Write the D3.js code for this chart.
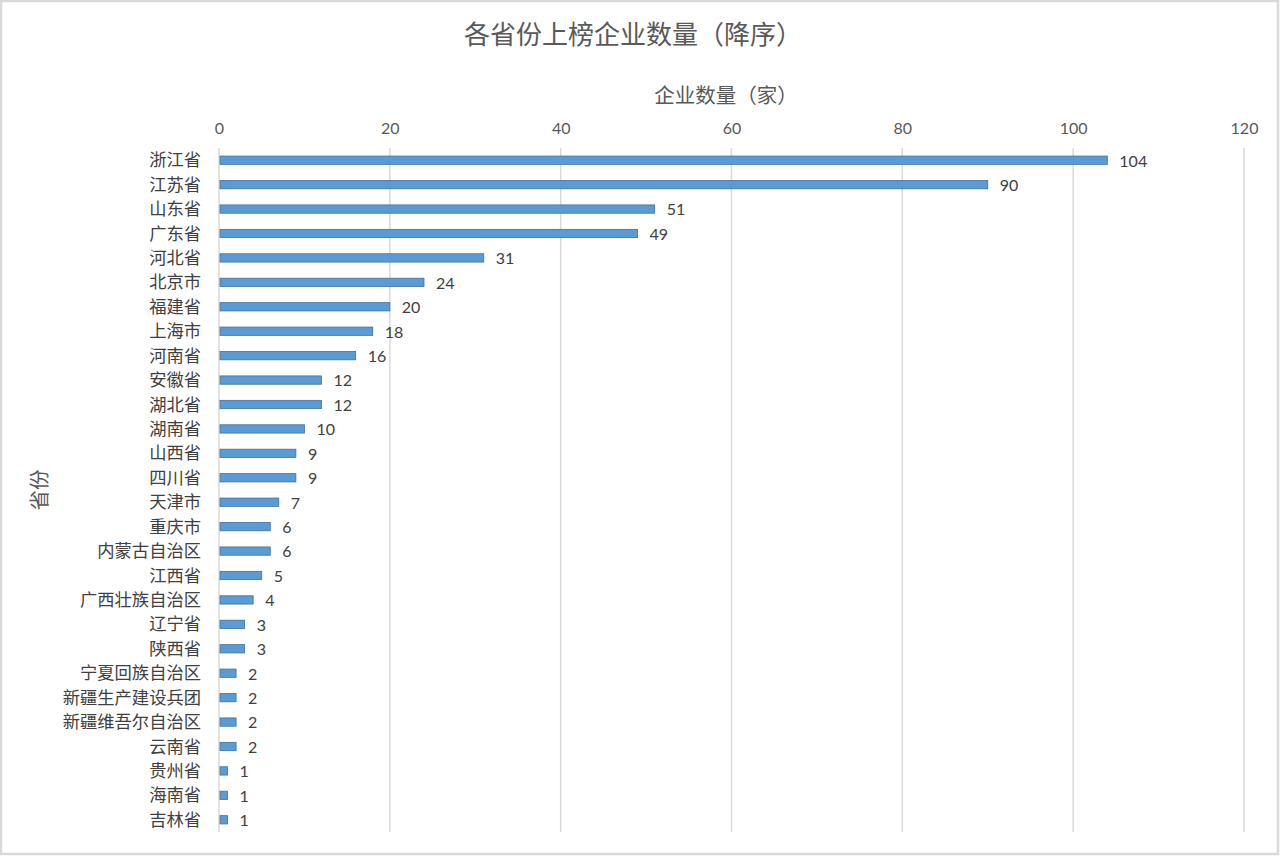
<!DOCTYPE html>
<html>
<head>
<meta charset="utf-8">
<script src="https://cdn.jsdelivr.net/npm/d3@7"></script>
<style>
  html, body { margin: 0; padding: 0; background: #fff; }
  svg { display: block; }
</style>
</head>
<body>
<svg width="1280" height="856"></svg>
<script>
var provinces = ['浙江省','江苏省','山东省','广东省','河北省','北京市','福建省','上海市','河南省','安徽省',
                 '湖北省','湖南省','山西省','四川省','天津市','重庆市','内蒙古自治区','江西省','广西壮族自治区','辽宁省',
                 '陕西省','宁夏回族自治区','新疆生产建设兵团','新疆维吾尔自治区','云南省','贵州省','海南省','吉林省'];
var counts = [104, 90, 51, 49, 31, 24, 20, 18, 16, 12,
              12, 10, 9, 9, 7, 6, 6, 5, 4, 3,
              3, 2, 2, 2, 2, 1, 1, 1];
var xTicks = [0, 20, 40, 60, 80, 100, 120];

var cjk = '"Noto Sans CJK SC", "Noto Sans", sans-serif';
var num = 'Lato, "Open Sans", sans-serif';

var svg;
var x, y;
var margin = {top:148, left:219, right:36, bottom:24};
var width = 1280, height = 856;

document.addEventListener('DOMContentLoaded', function(){
    svg = d3.select('svg');
    var data = provinces.map(function(p, i){ return {name:p, value:counts[i]}; });

    // frame
    svg.append('rect')
        .attr('x',1).attr('y',1)
        .attr('width',width-3).attr('height',height-3)
        .attr('fill','#fff')
        .attr('stroke','#d9d9d9')
        .attr('stroke-width',2.5);

    x = d3.scaleLinear().domain([0,120]).range([margin.left, width - margin.right]);
    y = d3.scaleBand().domain(provinces)
        .range([margin.top, height - margin.bottom])
        .paddingInner(0.66).paddingOuter(0.33);

    plotGrid();
    plotBars(data);
    plotText();
});

function plotGrid(){
    svg.selectAll('.grid')
        .data(xTicks)
        .join('line')
        .attr('class','grid')
        .attr('x1',d => x(d)).attr('x2',d => x(d))
        .attr('y1',margin.top).attr('y2',height - margin.bottom)
        .attr('stroke','#d9d9d9')
        .attr('stroke-width',1.5);

    var axis = d3.axisTop(x).tickValues(xTicks).tickSize(0).tickPadding(0);
    var g = svg.append('g')
        .attr('transform','translate(0,134)')
        .call(axis);
    g.select('.domain').remove();
    g.selectAll('text')
        .attr('fill','#595959')
        .style('font-family',num)
        .style('font-size','16px');
}

function plotBars(data){
    svg.selectAll('.bar')
        .data(data)
        .join('rect')
        .attr('class','bar')
        .attr('x',x(0)+1)
        .attr('y',d => y(d.name))
        .attr('width',d => x(d.value) - x(0) - 1)
        .attr('height',y.bandwidth())
        .attr('fill','#5b9bd5')
        .attr('stroke','#41719c')
        .attr('stroke-width',0.8);

    svg.selectAll('.val')
        .data(data)
        .join('text')
        .attr('class','val')
        .attr('x',d => x(d.value) + 12)
        .attr('y',d => y(d.name) + y.bandwidth()/2)
        .attr('dy','0.4em')
        .attr('fill','#404040')
        .style('font-family',num)
        .style('font-size','16px')
        .text(d => d.value);

    svg.selectAll('.cat')
        .data(data)
        .join('text')
        .attr('class','cat')
        .attr('x',201)
        .attr('y',d => y(d.name) + y.bandwidth()/2)
        .attr('dy','0.35em')
        .attr('text-anchor','end')
        .attr('fill','#404040')
        .style('font-family',cjk)
        .style('font-size','17.3px')
        .text(d => d.name);
}

function plotText(){
    svg.append('text')
        .attr('x',633).attr('y',35)
        .attr('dy','0.35em')
        .attr('text-anchor','middle')
        .attr('fill','#595959')
        .style('font-family',cjk)
        .style('font-size','26px')
        .text('各省份上榜企业数量（降序）');

    svg.append('text')
        .attr('x',726).attr('y',96)
        .attr('dy','0.35em')
        .attr('text-anchor','middle')
        .attr('fill','#595959')
        .style('font-family',cjk)
        .style('font-size','20.5px')
        .text('企业数量（家）');

    svg.append('text')
        .attr('transform','translate(40,490) rotate(-90)')
        .attr('dy','0.35em')
        .attr('text-anchor','middle')
        .attr('fill','#595959')
        .style('font-family',cjk)
        .style('font-size','20.5px')
        .text('省份');
}
</script>
</body>
</html>
